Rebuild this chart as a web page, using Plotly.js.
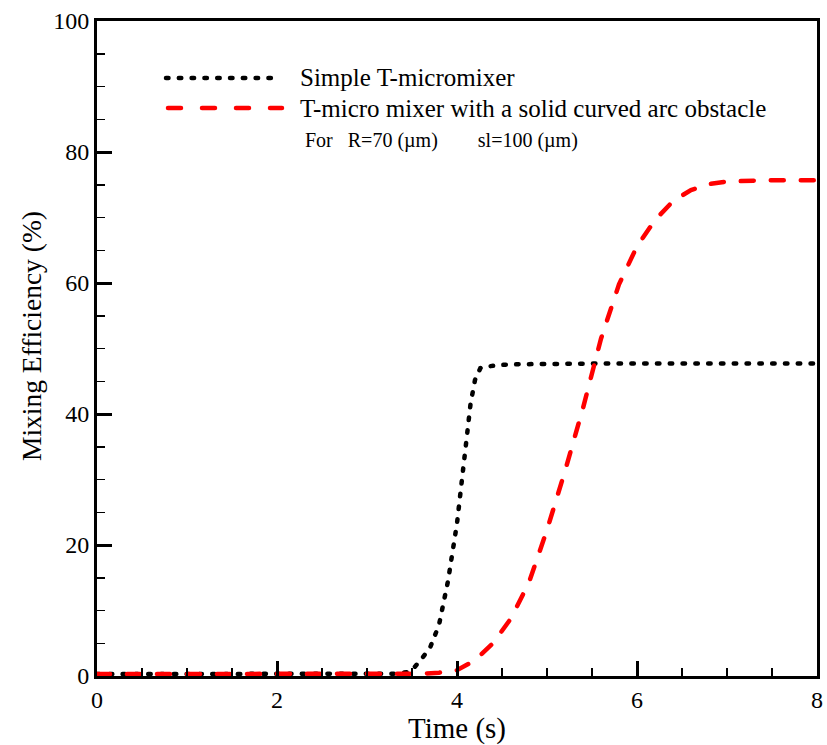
<!DOCTYPE html>
<html>
<head>
<meta charset="utf-8">
<script src="https://cdn.plot.ly/plotly-3.0.1.min.js"></script>
<style>
html,body{margin:0;padding:0;background:#fff;}
#chart{width:827px;height:745px;}
#chart .js-line, #chart .shapelayer path {stroke-linecap: round;}
</style>
</head>
<body>
<div id="chart"></div>
<script>
// Simple T-micromixer
const simpleTime = [0, 0.5, 1, 1.5, 2, 2.5, 3, 3.3, 3.45, 3.5, 3.6, 3.7, 3.8, 3.9, 4.0, 4.05, 4.1, 4.15, 4.2, 4.26, 4.3, 4.4, 4.5, 4.7, 5, 5.5, 6, 7, 8];
const simpleEff  = [0.3, 0.3, 0.3, 0.3, 0.3, 0.3, 0.3, 0.35, 0.6, 0.9, 2.5, 4.3, 7.8, 14.5, 23.3, 28.9, 35, 41.5, 45.2, 47.0, 47.2, 47.4, 47.5, 47.6, 47.7, 47.7, 47.7, 47.7, 47.7];
// T-micro mixer with a solid curved arc obstacle
const arcTime = [0, 0.5, 1, 1.5, 2, 2.5, 3, 3.4, 3.6, 3.8, 4.0, 4.2, 4.4, 4.6, 4.8, 5.0, 5.2, 5.4, 5.6, 5.8, 6.0, 6.2, 6.4, 6.6, 6.8, 7.0, 7.2, 7.5, 8];
const arcEff  = [0.3, 0.3, 0.3, 0.3, 0.3, 0.3, 0.3, 0.3, 0.35, 0.5, 0.9, 2.4, 5.0, 8.8, 14.3, 22.3, 31.3, 40.9, 51.5, 59.8, 65.6, 69.6, 72.5, 74.2, 75.1, 75.5, 75.6, 75.7, 75.7];

const legendNames = ["Simple T-micromixer", "T-micro mixer with a solid curved arc obstacle"];
const noteText = "For   R=70 (\u00b5m)        sl=100 (\u00b5m)";
const xTitle = "Time (s)";
const yTitle = "Mixing Efficiency (%)";

const xTickVals = [0, 2, 4, 6, 8];
const yTickVals = [0, 20, 40, 60, 80, 100];

const serif = "Liberation Serif, Times New Roman, serif";
const dotDash = '2.5px,10.3px';
const longDash = '13px,17px';

const traces = [
  {x: simpleTime, y: simpleEff, mode: 'lines', name: legendNames[0], showlegend: false,
   line: {color: '#000000', width: 4.5, dash: dotDash}},
  {x: arcTime, y: arcEff, mode: 'lines', name: legendNames[1], showlegend: false,
   line: {color: '#ff0000', width: 4.5, dash: longDash}}
];

const layout = {
  width: 827, height: 745,
  margin: {l: 97, r: 10, t: 21, b: 69},
  paper_bgcolor: '#ffffff', plot_bgcolor: '#ffffff',
  font: {family: serif, color: '#000000', size: 22},
  xaxis: {
    range: [0, 8], tickvals: xTickVals, ticktext: xTickVals.map(String),
    showgrid: false, zeroline: false,
    showline: true, linecolor: '#000', linewidth: 3, mirror: true,
    ticks: 'inside', ticklen: 15, tickwidth: 3, tickcolor: '#000',
    minor: {dtick: 0.5, ticks: 'inside', ticklen: 8, tickwidth: 1.5, tickcolor: '#000', showgrid: false},
    tickfont: {family: serif, size: 24, color: '#000'},
    title: {text: xTitle, font: {family: serif, size: 29, color: '#000'}, standoff: 0}
  },
  yaxis: {
    range: [0, 100], tickvals: yTickVals, ticktext: yTickVals.map(String),
    showgrid: false, zeroline: false,
    showline: true, linecolor: '#000', linewidth: 3, mirror: true,
    ticks: 'inside', ticklen: 15, tickwidth: 3, tickcolor: '#000',
    minor: {dtick: 5, ticks: 'inside', ticklen: 8, tickwidth: 1.5, tickcolor: '#000', showgrid: false},
    tickfont: {family: serif, size: 24, color: '#000'}
  },
  shapes: [
    {type: 'line', xref: 'paper', yref: 'paper', x0: (166-97)/720, x1: (280-97)/720, y0: (676-78)/655, y1: (676-78)/655,
     line: {color: '#000', width: 4.5, dash: dotDash}},
    {type: 'line', xref: 'paper', yref: 'paper', x0: (168-97)/720, x1: (282-97)/720, y0: (676-108)/655, y1: (676-108)/655,
     line: {color: '#ff0000', width: 4.5, dash: '13px,21px'}}
  ],
  annotations: [
    {xref: 'paper', yref: 'paper', x: (31-97)/720, y: (676-336)/655, xanchor: 'center', yanchor: 'middle',
     textangle: -90, text: yTitle, showarrow: false, font: {family: serif, size: 27.5, color: '#000'}},
    {xref: 'paper', yref: 'paper', x: (298-97)/720, y: (676-77)/655, xanchor: 'left', yanchor: 'middle',
     text: legendNames[0], showarrow: false, font: {family: serif, size: 25, color: '#000'}},
    {xref: 'paper', yref: 'paper', x: (298-97)/720, y: (676-108)/655, xanchor: 'left', yanchor: 'middle',
     text: legendNames[1], showarrow: false, font: {family: serif, size: 25, color: '#000'}},
    {xref: 'paper', yref: 'paper', x: (303-97)/720, y: (676-140)/655, xanchor: 'left', yanchor: 'middle',
     text: noteText, showarrow: false, font: {family: serif, size: 20, color: '#000'}}
  ]
};

Plotly.newPlot('chart', traces, layout, {displayModeBar: false, staticPlot: true});
</script>
</body>
</html>
